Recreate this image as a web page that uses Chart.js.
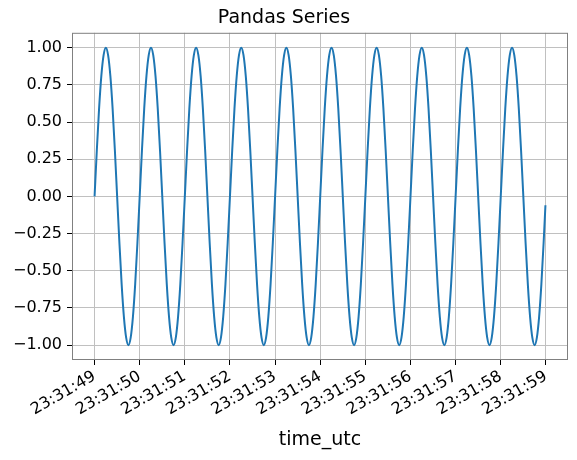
<!DOCTYPE html>
<html lang="en">

<head>
    <meta charset="UTF-8">
    <title>Pandas Series</title>
    <style>
        html, body {
            margin: 0;
            padding: 0;
            background: #ffffff;
        }

        #wrap {
            width: 577px;
            height: 460px;
        }
    </style>
    <script src="https://cdn.jsdelivr.net/npm/chart.js"></script>
</head>

<body>
    <div id="wrap"><canvas id="myChart" width="577" height="460"></canvas></div>

    <script>
        const chartTitle = 'Pandas Series';
        const xTitle = 'time_utc';
        const tickLabels = ['23:31:49', '23:31:50', '23:31:51', '23:31:52', '23:31:53', '23:31:54',
            '23:31:55', '23:31:56', '23:31:57', '23:31:58', '23:31:59'];
        const yTicks = [-1.0, -0.75, -0.5, -0.25, 0.0, 0.25, 0.5, 0.75, 1.0];

        // seconds after 23:31:49, one row per second
        const seconds = [
            0.00, 0.05, 0.10, 0.15, 0.20, 0.25, 0.30, 0.35, 0.40, 0.45, 0.50, 0.55, 0.60, 0.65, 0.70, 0.75, 0.80, 0.85, 0.90, 0.95,
            1.00, 1.05, 1.10, 1.15, 1.20, 1.25, 1.30, 1.35, 1.40, 1.45, 1.50, 1.55, 1.60, 1.65, 1.70, 1.75, 1.80, 1.85, 1.90, 1.95,
            2.00, 2.05, 2.10, 2.15, 2.20, 2.25, 2.30, 2.35, 2.40, 2.45, 2.50, 2.55, 2.60, 2.65, 2.70, 2.75, 2.80, 2.85, 2.90, 2.95,
            3.00, 3.05, 3.10, 3.15, 3.20, 3.25, 3.30, 3.35, 3.40, 3.45, 3.50, 3.55, 3.60, 3.65, 3.70, 3.75, 3.80, 3.85, 3.90, 3.95,
            4.00, 4.05, 4.10, 4.15, 4.20, 4.25, 4.30, 4.35, 4.40, 4.45, 4.50, 4.55, 4.60, 4.65, 4.70, 4.75, 4.80, 4.85, 4.90, 4.95,
            5.00, 5.05, 5.10, 5.15, 5.20, 5.25, 5.30, 5.35, 5.40, 5.45, 5.50, 5.55, 5.60, 5.65, 5.70, 5.75, 5.80, 5.85, 5.90, 5.95,
            6.00, 6.05, 6.10, 6.15, 6.20, 6.25, 6.30, 6.35, 6.40, 6.45, 6.50, 6.55, 6.60, 6.65, 6.70, 6.75, 6.80, 6.85, 6.90, 6.95,
            7.00, 7.05, 7.10, 7.15, 7.20, 7.25, 7.30, 7.35, 7.40, 7.45, 7.50, 7.55, 7.60, 7.65, 7.70, 7.75, 7.80, 7.85, 7.90, 7.95,
            8.00, 8.05, 8.10, 8.15, 8.20, 8.25, 8.30, 8.35, 8.40, 8.45, 8.50, 8.55, 8.60, 8.65, 8.70, 8.75, 8.80, 8.85, 8.90, 8.95,
            9.00, 9.05, 9.10, 9.15, 9.20, 9.25, 9.30, 9.35, 9.40, 9.45, 9.50, 9.55, 9.60, 9.65, 9.70, 9.75, 9.80, 9.85, 9.90, 9.95,
            9.99
        ];

        const values = [
            0.00, 0.31, 0.59, 0.81, 0.95, 1.00, 0.95, 0.81, 0.59, 0.31, 0.00, -0.31, -0.59, -0.81, -0.95, -1.00, -0.95, -0.81, -0.59, -0.31,
            0.00, 0.31, 0.59, 0.81, 0.95, 1.00, 0.95, 0.81, 0.59, 0.31, 0.00, -0.31, -0.59, -0.81, -0.95, -1.00, -0.95, -0.81, -0.59, -0.31,
            0.00, 0.31, 0.59, 0.81, 0.95, 1.00, 0.95, 0.81, 0.59, 0.31, 0.00, -0.31, -0.59, -0.81, -0.95, -1.00, -0.95, -0.81, -0.59, -0.31,
            0.00, 0.31, 0.59, 0.81, 0.95, 1.00, 0.95, 0.81, 0.59, 0.31, 0.00, -0.31, -0.59, -0.81, -0.95, -1.00, -0.95, -0.81, -0.59, -0.31,
            0.00, 0.31, 0.59, 0.81, 0.95, 1.00, 0.95, 0.81, 0.59, 0.31, 0.00, -0.31, -0.59, -0.81, -0.95, -1.00, -0.95, -0.81, -0.59, -0.31,
            0.00, 0.31, 0.59, 0.81, 0.95, 1.00, 0.95, 0.81, 0.59, 0.31, 0.00, -0.31, -0.59, -0.81, -0.95, -1.00, -0.95, -0.81, -0.59, -0.31,
            0.00, 0.31, 0.59, 0.81, 0.95, 1.00, 0.95, 0.81, 0.59, 0.31, 0.00, -0.31, -0.59, -0.81, -0.95, -1.00, -0.95, -0.81, -0.59, -0.31,
            0.00, 0.31, 0.59, 0.81, 0.95, 1.00, 0.95, 0.81, 0.59, 0.31, 0.00, -0.31, -0.59, -0.81, -0.95, -1.00, -0.95, -0.81, -0.59, -0.31,
            0.00, 0.31, 0.59, 0.81, 0.95, 1.00, 0.95, 0.81, 0.59, 0.31, 0.00, -0.31, -0.59, -0.81, -0.95, -1.00, -0.95, -0.81, -0.59, -0.31,
            0.00, 0.31, 0.59, 0.81, 0.95, 1.00, 0.95, 0.81, 0.59, 0.31, 0.00, -0.31, -0.59, -0.81, -0.95, -1.00, -0.95, -0.81, -0.59, -0.31,
            -0.06
        ];

        const font = 'DejaVu Sans';

        // grey box around the plot area, like matplotlib spines
        const spines = {
            id: 'spines',
            afterDraw(chart) {
                const a = chart.chartArea;
                const ctx = chart.ctx;
                ctx.save();
                ctx.strokeStyle = '#808080';
                ctx.lineWidth = 1;
                ctx.strokeRect(a.left + 0.5, a.top + 0.5, a.right - a.left - 1, a.bottom - a.top - 1);
                ctx.restore();
            }
        };

        const ctx = document.getElementById('myChart').getContext('2d');
        new Chart(ctx, {
            type: 'line',
            data: {
                datasets: [{
                    label: 'series',
                    data: seconds.map((s, i) => ({ x: s, y: values[i] })),
                    borderColor: '#1f77b4',
                    borderWidth: 2,
                    pointRadius: 0,
                    cubicInterpolationMode: 'monotone',
                    fill: false
                }]
            },
            plugins: [spines],
            options: {
                responsive: false,
                animation: false,
                layout: { padding: { top: 0, right: 9, bottom: 0, left: 0 } },
                plugins: {
                    legend: { display: false },
                    tooltip: { enabled: false },
                    title: {
                        display: true,
                        text: chartTitle,
                        color: '#000',
                        font: { family: font, size: 19, weight: 'normal' },
                        padding: { top: 7, bottom: 3 }
                    }
                },
                scales: {
                    x: {
                        type: 'linear',
                        min: -0.5,
                        max: 10.49,
                        afterBuildTicks: s => { s.ticks = tickLabels.map((_, i) => ({ value: i })); },
                        afterFit: s => { s.height = 100; },
                        border: { display: false },
                        grid: { color: '#c0c0c0', lineWidth: 1, tickColor: '#000', tickLength: 5 },
                        ticks: {
                            autoSkip: false,
                            minRotation: 30,
                            maxRotation: 30,
                            padding: 2,
                            color: '#000',
                            font: { family: font, size: 16 },
                            callback: v => tickLabels[v]
                        },
                        title: {
                            display: true,
                            text: xTitle,
                            color: '#000',
                            font: { family: font, size: 19 },
                            padding: { top: 0, bottom: 9 }
                        }
                    },
                    y: {
                        min: -1.1,
                        max: 1.1,
                        afterBuildTicks: s => { s.ticks = yTicks.map(v => ({ value: v })); },
                        afterFit: s => { s.width = 72; },
                        border: { display: false },
                        grid: { color: '#c0c0c0', lineWidth: 1, tickColor: '#000', tickLength: 5 },
                        ticks: {
                            padding: 5,
                            color: '#000',
                            font: { family: font, size: 16 },
                            callback: v => v.toFixed(2).replace('-', '\u2212')
                        }
                    }
                }
            }
        });
    </script>
</body>

</html>
